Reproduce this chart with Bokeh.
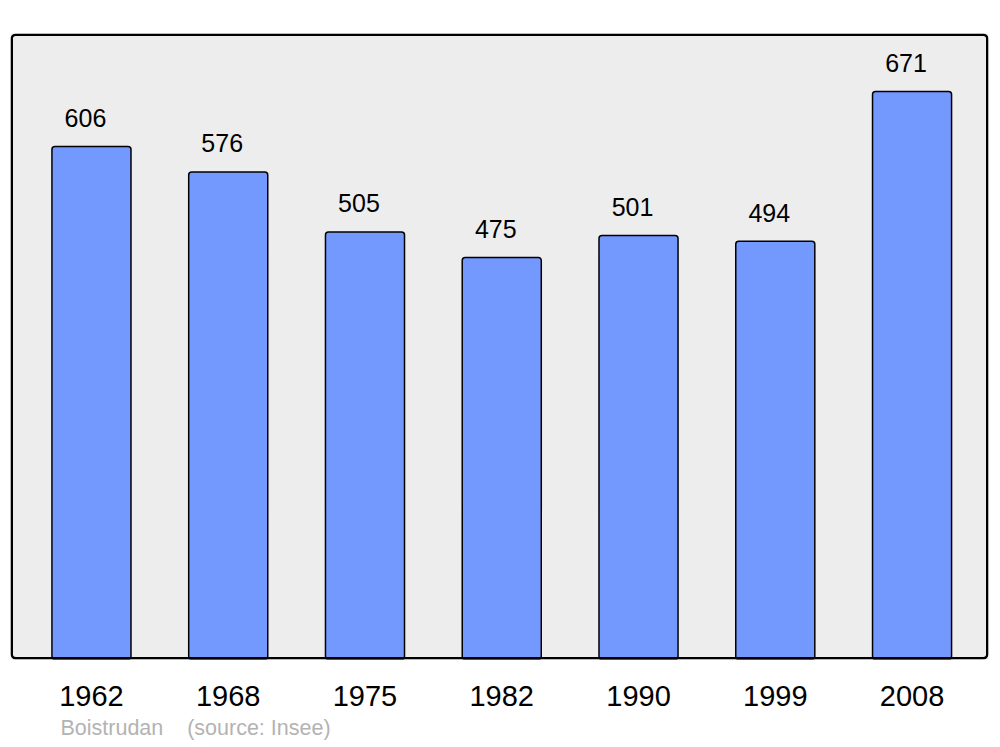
from bokeh.plotting import figure
from bokeh.models import ColumnDataSource, FixedTicker, BoxAnnotation, Title, Range1d
from bokeh.core.properties import value
from bokeh.embed import file_html
from bokeh.resources import INLINE

years = ["1962", "1968", "1975", "1982", "1990", "1999", "2008"]
population = [606, 576, 505, 475, 501, 494, 671]
source_text = "Boistrudan\u00a0\u00a0\u00a0\u00a0(source: Insee)"

FONT = "Liberation Sans"
xs = list(range(len(years)))
LABEL_PAD = 34.0
LABEL_SHIFT = -0.044
X0, X1 = -0.592, 6.559
Y0, Y1 = 0, 739.5

src = ColumnDataSource(dict(
    x=xs,
    top=population,
    lx=[x + LABEL_SHIFT for x in xs],
    ly=[v + LABEL_PAD for v in population],
    txt=[str(v) for v in population],
))

p = figure(width=996, height=744, output_backend="svg", toolbar_location=None,
           x_range=Range1d(X0, X1), y_range=Range1d(Y0, Y1),
           min_border_left=10, min_border_right=8, min_border_top=33, min_border_bottom=85)
p.frame_width = 978
p.frame_height = 626
p.border_fill_color = "white"
p.background_fill_color = "#ededed"
p.outline_line_color = None
p.grid.visible = False
p.yaxis.visible = False

p.vbar(x="x", top="top", bottom=0, width=0.578, source=src,
       fill_color="#7399ff", line_color="black", line_width=1.5, border_radius=3)

p.text(x="lx", y="ly", text="txt", source=src, text_align="center",
       text_baseline="alphabetic", text_font=value(FONT), text_font_size="25px",
       text_color="black")

# frame border, inset ~1px so the full stroke stays inside the frame
p.add_layout(BoxAnnotation(left=X0 + 0.009, right=X1 - 0.009, bottom=Y0 + 1.4, top=Y1 - 1.4,
                           fill_alpha=0, fill_color=None, line_color="black",
                           line_alpha=1.0, line_width=2.5, border_radius=4))

ax = p.xaxis[0]
ax.ticker = FixedTicker(ticks=xs)
ax.major_label_overrides = {i: y for i, y in zip(xs, years)}
ax.axis_line_color = None
ax.major_tick_line_color = None
ax.minor_tick_line_color = None
ax.major_tick_out = 0
ax.major_tick_in = 0
ax.major_label_standoff = 26
ax.major_label_text_font = FONT
ax.major_label_text_font_size = "29px"
ax.major_label_text_color = "black"

p.add_layout(Title(text=source_text, align="left", offset=50, standoff=10,
                   text_font=FONT, text_font_size="21.5px", text_font_style="normal",
                   text_color="#b3b3b3"), "below")

open("out.html", "w").write(file_html(p, INLINE))
